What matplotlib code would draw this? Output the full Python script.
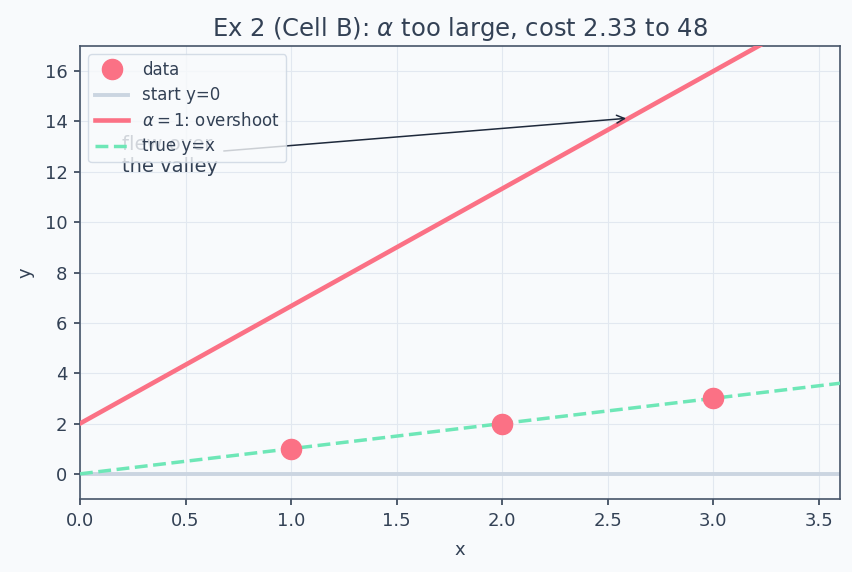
import matplotlib
matplotlib.use("Agg")
import matplotlib.pyplot as plt
import numpy as np

# data
x_data = [1, 2, 3]
y_data = [1, 2, 3]
w_new = 14 / 3
b_new = 2.0
x_line = [0.0, 3.6]
start_y = [0.0, 0.0]
over_y = [b_new + w_new * xv for xv in x_line]
true_y = [xv for xv in x_line]
arrow_x = 2.6

TXT = "#334155"
fig = plt.figure(figsize=(8.53, 5.72), dpi=100, facecolor="#f8fafc")
ax = fig.add_axes([0.0938, 0.1276, 0.891, 0.7920])
ax.set_facecolor("#f8fafc")

ax.plot(x_data, y_data, "o", color="#fb7185", markersize=14.5, label="data", zorder=4)
ax.plot(x_line, start_y, color="#cbd5e1", lw=2.8, label="start y=0", zorder=2)
ax.plot(x_line, over_y, color="#fb7185", lw=3.3, label=r"$\alpha=1$: overshoot", zorder=3)
ax.plot(x_line, true_y, color="#6ee7b7", lw=2.5, ls="--", label="true y=x", zorder=3)

ax.annotate("flew over\nthe valley", xy=(arrow_x, b_new + w_new * arrow_x), xytext=(0.2, 12.0),
            fontsize=14, color=TXT,
            arrowprops=dict(arrowstyle="->", color="#1e293b", lw=1.1))

ax.set_xlim(0, 3.6)
ax.set_ylim(-1, 17)
ax.set_xticks(np.arange(0, 3.51, 0.5))
ax.set_yticks(np.arange(0, 16.1, 2))
ax.grid(True, color="#e2e8f0", lw=0.8, zorder=0)
ax.set_axisbelow(True)
for s in ["top", "right", "left", "bottom"]:
    ax.spines[s].set_color("#475569")
    ax.spines[s].set_linewidth(1.2)
ax.tick_params(colors=TXT, labelsize=13, width=1.2, length=4.5, pad=4.5)
ax.set_xlabel("x", fontsize=13, color=TXT, labelpad=8)
ax.set_ylabel("y", fontsize=13, color=TXT, labelpad=7)
ax.set_title(r"Ex 2 (Cell B): $\alpha$ too large, cost 2.33 to 48", fontsize=17.5, color=TXT, pad=7)

leg = ax.legend(loc="upper left", fontsize=12, labelspacing=0.45, framealpha=0.8,
                edgecolor="#cbd5e1", facecolor="#f8fafc")
for t in leg.get_texts():
    t.set_color(TXT)

fig.savefig("out.png", dpi=100, facecolor=fig.get_facecolor())
